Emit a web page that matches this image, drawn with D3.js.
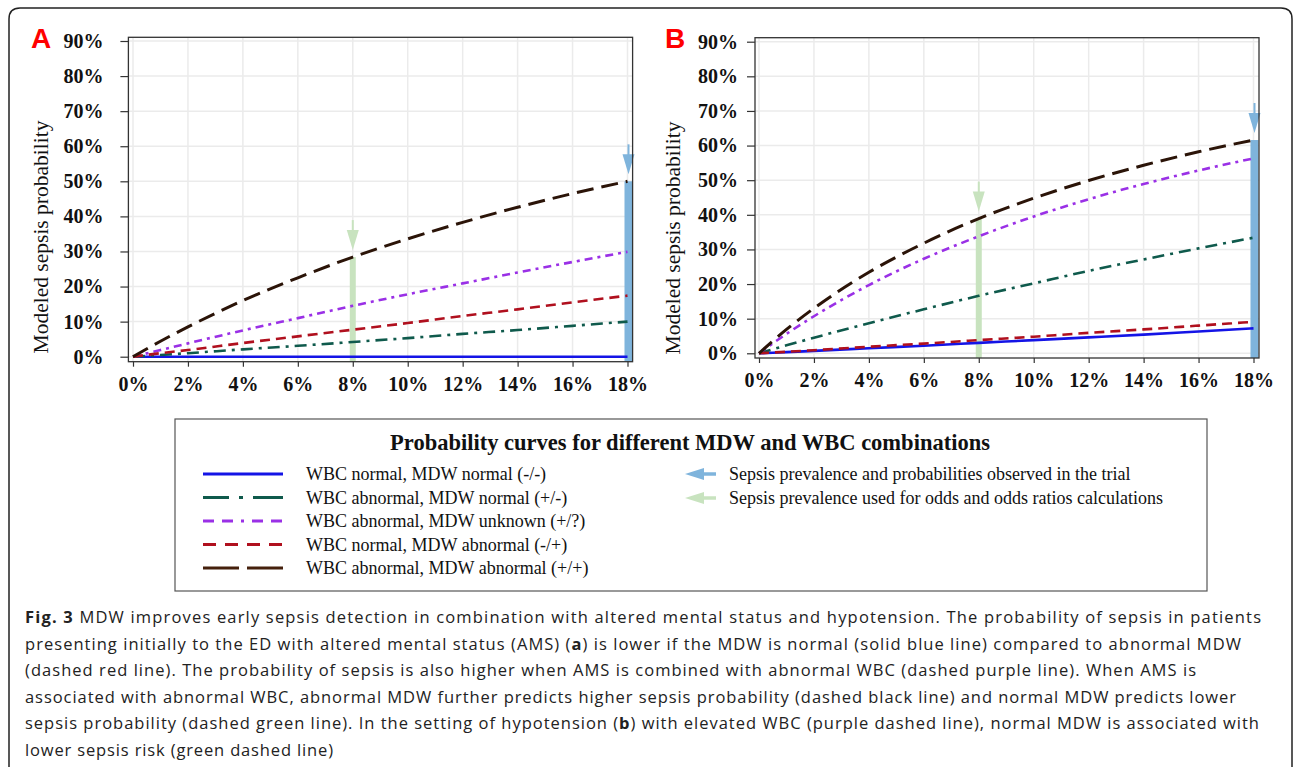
<!DOCTYPE html>
<html>
<head>
<meta charset="utf-8">
<script src="https://cdn.jsdelivr.net/npm/d3@7"></script>
<style>
  body { margin: 0; background: #fff; }
  svg { display: block; }
</style>
</head>
<body>
<svg id="fig"></svg>
<script>
const width = 1295;
const height = 767;

// prevalence (x, %) and modeled sepsis probability (y, %)
const prevalence = [0, 1, 2, 4, 6, 8, 10, 12, 14, 16, 18];
const xTicks = [0, 2, 4, 6, 8, 10, 12, 14, 16, 18];
const yTicks = [0, 10, 20, 30, 40, 50, 60, 70, 80, 90];

const seriesKeys = ["blue", "green", "purple", "red", "black"];
const seriesLabels = [
  "WBC normal, MDW normal (-/-)",
  "WBC abnormal, MDW normal (+/-)",
  "WBC abnormal, MDW unknown (+/?)",
  "WBC normal, MDW abnormal (-/+)",
  "WBC abnormal, MDW abnormal (+/+)"
];

// panel A: altered mental status
const aBlue   = [0, 0, 0, 0, 0, 0, 0, 0, 0, 0, 0];
const aGreen  = [0, 0.5, 1.0, 2.1, 3.1, 4.2, 5.3, 6.5, 7.6, 8.8, 10.0];
const aPurple = [0, 1.9, 3.8, 7.5, 11.0, 14.5, 17.8, 20.9, 24.0, 27.0, 29.9];
const aRed    = [0, 1.0, 1.9, 3.9, 5.8, 7.7, 9.6, 11.6, 13.5, 15.5, 17.4];
const aBlack  = [0, 4.4, 8.5, 16.0, 22.5, 28.4, 33.6, 38.3, 42.6, 46.5, 50.0];

// panel B: hypotension
const bBlue   = [0, 0.35, 0.7, 1.45, 2.2, 3.0, 3.8, 4.6, 5.4, 6.3, 7.2];
const bGreen  = [0, 2.3, 4.5, 8.7, 12.7, 16.6, 20.2, 23.8, 27.1, 30.3, 33.4];
const bPurple = [0, 5.6, 10.7, 19.7, 27.3, 33.8, 39.5, 44.5, 48.9, 52.8, 56.3];
const bRed    = [0, 0.45, 0.9, 1.9, 2.8, 3.8, 4.8, 5.9, 6.9, 8.0, 9.1];
const bBlack  = [0, 6.9, 13.0, 23.4, 31.8, 38.9, 44.8, 49.9, 54.3, 58.2, 61.6];

// arrows: trial prevalence and prevalence used for odds
const arrowPrevalence = [18, 8];
const arrowKinds = ["trial", "odds"];
const arrowLabels = [
  "Sepsis prevalence and probabilities observed in the trial",
  "Sepsis prevalence used for odds and odds ratios calculations"
];

const captionLines = [
  [["Fig. 3", true], [" MDW improves early sepsis detection in combination with altered mental status and hypotension. The probability of sepsis in patients", false]],
  [["presenting initially to the ED with altered mental status (AMS) (", false], ["a", true], [") is lower if the MDW is normal (solid blue line) compared to abnormal MDW", false]],
  [["(dashed red line). The probability of sepsis is also higher when AMS is combined with abnormal WBC (dashed purple line). When AMS is", false]],
  [["associated with abnormal WBC, abnormal MDW further predicts higher sepsis probability (dashed black line) and normal MDW predicts lower", false]],
  [["sepsis probability (dashed green line). In the setting of hypotension (", false], ["b", true], [") with elevated WBC (purple dashed line), normal MDW is associated with", false]],
  [["lower sepsis risk (green dashed line)", false]]
];
const captionEnds = [1261, 1241, 1196, 1236, 1259, 333];

const style = {
  blue:   { color: "#1414e6", dash: null,        w: 2.6, legDash: null },
  green:  { color: "#0f5a4c", dash: "12,6,3,6",  w: 2.6, legDash: "26,10,4,10,30" },
  purple: { color: "#9a30e6", dash: "8,5,3,5",   w: 2.6, legDash: "11,8,11,8,3,8,11,8,11" },
  red:    { color: "#b0101e", dash: "10,6",      w: 2.6, legDash: "13,9" },
  black:  { color: "#2b1408", dash: "17,8",      w: 3,   legDash: "36,8,36" }
};
const legendColor = { black: "#45200c" };
const arrowColor = { trial: "#7fb4dc", odds: "#c8e3bf" };
const serif = "'Liberation Serif', 'Times New Roman', serif";

const svg = d3.select("#fig")
  .attr("width", width)
  .attr("height", height);

svg.append("rect").attr("width", width).attr("height", height).attr("fill", "#fff");

// outer frame, open at bottom
svg.append("path")
  .attr("d", "M9,775 L9,19 Q9,8 20,8 L1281,8 Q1292,8 1292,19 L1292,775")
  .attr("fill", "none")
  .attr("stroke", "#222")
  .attr("stroke-width", 1.5);

function drawPanel(cfg, values) {
  const g = svg.append("g");
  const x = d3.scaleLinear().domain([0, 18]).range(cfg.xr);
  const y = d3.scaleLinear().domain([0, 90]).range(cfg.yr);
  const [bx0, bx1] = cfg.bx;
  const [by0, by1] = cfg.by;

  // grid
  g.selectAll(".vg").data(xTicks).join("line")
    .attr("x1", d => x(d)).attr("x2", d => x(d))
    .attr("y1", by0).attr("y2", by1)
    .attr("stroke", "#ebebeb").attr("stroke-width", 1.5);
  g.selectAll(".hg").data(yTicks).join("line")
    .attr("x1", bx0).attr("x2", bx1)
    .attr("y1", d => y(d)).attr("y2", d => y(d))
    .attr("stroke", "#ebebeb").attr("stroke-width", 1.5);

  // arrows (behind the curves)
  const top = values[values.length - 1];
  arrowPrevalence.forEach((p, i) => {
    const kind = arrowKinds[i];
    const ax = x(p) + (kind === "trial" ? 1 : 0);
    const vy = y(top[prevalence.indexOf(p)]);
    const bw = kind === "trial" ? 8 : 6;
    g.append("rect")
      .attr("x", ax - bw / 2).attr("width", bw)
      .attr("y", vy).attr("height", by1 - vy)
      .attr("fill", arrowColor[kind]);
    g.append("line")
      .attr("x1", ax).attr("x2", ax)
      .attr("y1", vy - 37).attr("y2", vy - 26)
      .attr("stroke", arrowColor[kind]).attr("stroke-width", 2);
    g.append("path")
      .attr("d", `M${ax - 6},${vy - 27} L${ax + 6},${vy - 27} L${ax},${vy - 7} Z`)
      .attr("fill", arrowColor[kind]);
  });

  // curves
  const line = d3.line()
    .x((d, i) => x(prevalence[i]))
    .y(d => y(d))
    .curve(d3.curveMonotoneX);
  seriesKeys.forEach((k, i) => {
    g.append("path")
      .datum(values[i])
      .attr("d", line)
      .attr("fill", "none")
      .attr("stroke", style[k].color)
      .attr("stroke-width", style[k].w)
      .attr("stroke-dasharray", style[k].dash);
  });

  // frame
  g.append("rect")
    .attr("x", bx0).attr("y", by0)
    .attr("width", bx1 - bx0).attr("height", by1 - by0)
    .attr("fill", "none").attr("stroke", "#333").attr("stroke-width", 1.3);

  // axes
  const yAxis = g.append("g")
    .attr("transform", `translate(${bx0},0)`)
    .call(d3.axisLeft(y).tickValues(yTicks).tickFormat(d => d + "%")
      .tickSize(8).tickPadding(cfg.yPad));
  const xAxis = g.append("g")
    .attr("transform", `translate(0,${by1})`)
    .call(d3.axisBottom(x).tickValues(xTicks).tickFormat(d => d + "%")
      .tickSize(5).tickPadding(10));
  [yAxis, xAxis].forEach(a => {
    a.select(".domain").remove();
    a.selectAll(".tick line").attr("stroke", "#333").attr("stroke-width", 1.2);
    a.selectAll("text")
      .attr("font-family", serif)
      .attr("font-weight", "bold")
      .attr("font-size", 20)
      .attr("fill", "#111");
  });

  // axis title
  g.append("text")
    .attr("transform", `translate(${cfg.titleX},${cfg.titleY}) rotate(-90)`)
    .attr("text-anchor", "middle")
    .attr("dominant-baseline", "central")
    .attr("font-family", serif)
    .attr("font-size", 21.5)
    .attr("fill", "#111")
    .text("Modeled sepsis probability");

  // panel letter
  g.append("text")
    .attr("x", cfg.letterX).attr("y", 48)
    .attr("font-family", "'Liberation Sans', Arial, sans-serif")
    .attr("font-weight", "bold")
    .attr("font-size", 28)
    .attr("fill", "#ff0000")
    .text(cfg.letter);
}

drawPanel({ letter: "A", letterX: 31, xr: [133, 627.5], yr: [356.7, 41], bx: [128.4, 632.6], by: [37.3, 361.7], yPad: 17, titleX: 41, titleY: 237 },
  [aBlue, aGreen, aPurple, aRed, aBlack]);
drawPanel({ letter: "B", letterX: 665, xr: [759, 1253.5], yr: [353.3, 41.7], bx: [755, 1259], by: [37.7, 358], yPad: 9, titleX: 673, titleY: 238 },
  [bBlue, bGreen, bPurple, bRed, bBlack]);

// legend
const leg = svg.append("g");
leg.append("rect")
  .attr("x", 175).attr("y", 419).attr("width", 1032).attr("height", 172)
  .attr("fill", "#fff").attr("stroke", "#555").attr("stroke-width", 1.2);
leg.append("text")
  .attr("x", 690).attr("y", 450)
  .attr("text-anchor", "middle")
  .attr("font-family", serif).attr("font-weight", "bold").attr("font-size", 22.5)
  .attr("fill", "#111")
  .text("Probability curves for different MDW and WBC combinations");

const rowY = d3.scalePoint().domain(seriesKeys).range([474, 568]);
const rows = leg.selectAll(".row").data(seriesKeys).join("g")
  .attr("transform", d => `translate(0,${rowY(d)})`);
rows.append("line")
  .attr("x1", 203).attr("x2", 283)
  .attr("stroke", d => legendColor[d] || style[d].color)
  .attr("stroke-width", 3)
  .attr("stroke-dasharray", d => style[d].legDash);
rows.append("text")
  .attr("x", 306).attr("y", 6)
  .attr("font-family", serif).attr("font-size", 18).attr("fill", "#111")
  .text((d, i) => seriesLabels[i]);

const arrowRows = leg.selectAll(".arow").data(arrowKinds).join("g")
  .attr("transform", (d, i) => `translate(0,${474 + i * 24})`);
arrowRows.append("line")
  .attr("x1", 700).attr("x2", 716)
  .attr("stroke", d => arrowColor[d]).attr("stroke-width", 3.5);
arrowRows.append("path")
  .attr("d", "M685,0 L704,-6 L704,6 Z")
  .attr("fill", d => arrowColor[d]);
arrowRows.append("text")
  .attr("x", 729).attr("y", 6)
  .attr("font-family", serif).attr("font-size", 18).attr("fill", "#111")
  .text((d, i) => arrowLabels[i]);

// caption
const cap = svg.append("g");
captionLines.forEach((parts, i) => {
  const t = cap.append("text")
    .attr("x", 25).attr("y", 623 + i * 26.5)
    .attr("font-family", "'Open Sans', 'Noto Sans', sans-serif")
    .attr("font-size", 16.5)
    .attr("fill", "#222")
    .attr("textLength", captionEnds[i] - 25)
    .attr("lengthAdjust", "spacing");
  parts.forEach(([s, b]) => {
    t.append("tspan").attr("font-weight", b ? "bold" : "normal").text(s);
  });
});
</script>
</body>
</html>
